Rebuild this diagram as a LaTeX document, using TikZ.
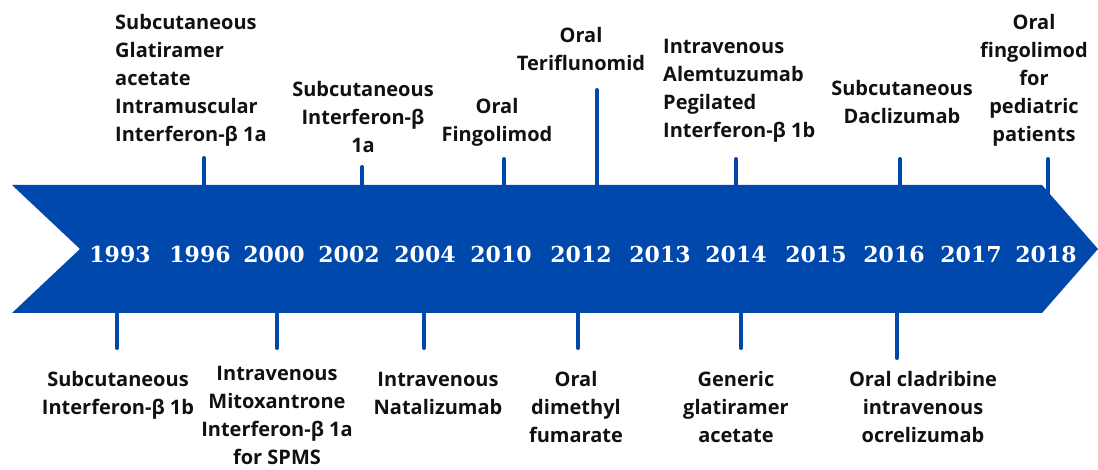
\documentclass[tikz,border=0pt]{standalone}
\usepackage{fontspec}
\setmainfont{Open Sans}
\newfontfamily\yearfont{DejaVu Serif}[BoldFont={DejaVu Serif Bold}]
\usepackage{tikz}
\definecolor{bandblue}{RGB}{0,72,171}
\definecolor{ink}{RGB}{17,17,17}

\begin{document}
\begin{tikzpicture}[x=1pt,y=-1pt,
		year/.style={text=white,font=\yearfont\bfseries\fontsize{22}{24}\selectfont,anchor=base,inner sep=0pt},
		lbl/.style={text=ink,font=\bfseries\fontsize{20}{28}\selectfont,align=center,anchor=base,inner sep=0pt},
		lbll/.style={lbl,align=left,anchor=base west},
		tick/.style={draw=bandblue,line width=4pt,line cap=round}]
				\useasboundingbox (0,0) rectangle (1098,470);
				\fill[bandblue] (12,185) -- (1042,185) -- (1098,249) -- (1042,313) -- (12,313) -- (80,249) -- cycle;
				
				\node (y1993) at (120,263) [year] {1993};
				\node (y1996) at (200,263) [year] {1996};
				\node (y2000) at (274,263) [year] {2000};
				\node (y2002) at (349,263) [year] {2002};
				\node (y2004) at (425,263) [year] {2004};
				\node (y2010) at (501,263) [year] {2010};
				\node (y2012) at (581,263) [year] {2012};
				\node (y2013) at (660,263) [year] {2013};
				\node (y2014) at (736,263) [year] {2014};
				\node (y2015) at (816,263) [year] {2015};
				\node (y2016) at (894,263) [year] {2016};
				\node (y2017) at (971,263) [year] {2017};
				\node (y2018) at (1046,263) [year] {2018};
				
				\node (l1996) at (115,142) [lbll] {Subcutaneous\\Glatiramer\\acetate\\Intramuscular\\Interferon-β 1a};
				\node (l2002) at (363,153) [lbl] {Subcutaneous\\Interferon-β\\1a};
				\node (l2010) at (497,142) [lbl] {Oral\\Fingolimod};
				\node (l2012) at (581,71) [lbl] {Oral\\Teriflunomid};
				\node (l2014) at (663,138) [lbll] {Intravenous\\Alemtuzumab\\Pegilated\\Interferon-β 1b};
				\node (l2016) at (902,124) [lbl] {Subcutaneous\\Daclizumab};
				\node (l2018) at (1034,142) [lbl] {Oral\\fingolimod\\for\\pediatric\\patients};
				
				\node (b1993) at (118,414) [lbl] {Subcutaneous\\Interferon-β 1b};
				\node (b2000) at (277,464) [lbl] {Intravenous\\Mitoxantrone\\Interferon-β 1a\\for SPMS};
				\node (b2004) at (438,414) [lbl] {Intravenous\\Natalizumab};
				\node (b2012) at (576,442) [lbl] {Oral\\dimethyl\\fumarate};
				\node (b2014) at (736,442) [lbl] {Generic\\glatiramer\\acetate};
				\node (b2016) at (923,442) [lbl] {Oral cladribine\\intravenous\\ocrelizumab};
				
				\coordinate (u1996) at (204,158);
				\coordinate (v1996) at (204,192);
				\coordinate (u2002) at (362,167);
				\coordinate (v2002) at (362,192);
				\coordinate (u2010) at (504,159);
				\coordinate (v2010) at (504,192);
				\coordinate (u2012) at (597,90);
				\coordinate (v2012) at (597,192);
				\coordinate (u2014) at (736,159);
				\coordinate (v2014) at (736,192);
				\coordinate (u2016) at (900,159);
				\coordinate (v2016) at (900,192);
				\coordinate (u2018) at (1048,159);
				\coordinate (v2018) at (1048,196);
				
				\coordinate (d1993) at (117,306);
				\coordinate (e1993) at (117,348);
				\coordinate (d2000) at (277,306);
				\coordinate (e2000) at (277,348);
				\coordinate (d2004) at (424,306);
				\coordinate (e2004) at (424,348);
				\coordinate (d2012) at (578,306);
				\coordinate (e2012) at (578,348);
				\coordinate (d2014) at (741,306);
				\coordinate (e2014) at (741,348);
				\coordinate (d2016) at (897,306);
				\coordinate (e2016) at (897,358);
				
				\draw[tick] (u1996) -- (v1996);
				\draw[tick] (u2002) -- (v2002);
				\draw[tick] (u2010) -- (v2010);
				\draw[tick] (u2012) -- (v2012);
				\draw[tick] (u2014) -- (v2014);
				\draw[tick] (u2016) -- (v2016);
				\draw[tick] (u2018) -- (v2018);
				\draw[tick] (d1993) -- (e1993);
				\draw[tick] (d2000) -- (e2000);
				\draw[tick] (d2004) -- (e2004);
				\draw[tick] (d2012) -- (e2012);
				\draw[tick] (d2014) -- (e2014);
				\draw[tick] (d2016) -- (e2016);
			\end{tikzpicture}
\end{document}
